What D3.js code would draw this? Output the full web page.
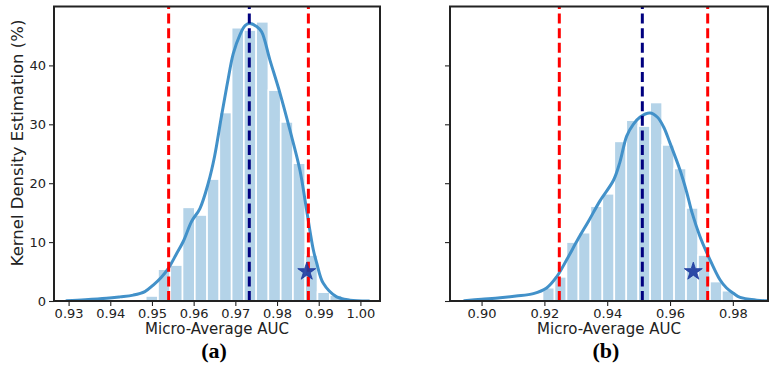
<!DOCTYPE html>
<html><head><meta charset="utf-8">
<script src="https://cdn.jsdelivr.net/npm/d3@7"></script>
<style>body{margin:0;background:#fff}svg{display:block}</style>
</head><body><svg id="c" width="769" height="367"></svg>
<script>
// ---- data ----
const yTicks = [0, 10, 20, 30, 40];
const xTicksA = [0.93, 0.94, 0.95, 0.96, 0.97, 0.98, 0.99, 1.00];
const xTicksB = [0.90, 0.92, 0.94, 0.96, 0.98];

const binEdgesA = [0.94556,0.94850,0.95145,0.95439,0.95733,0.96028,0.96322,0.96616,0.96911,0.97205,0.97499,0.97793,0.98088,0.98382,0.98676,0.98971,0.99265,0.99559];
const densA = [0.3,0.85,5.4,6.1,15.9,14.6,20.7,32.0,46.4,46.0,47.4,35.8,30.4,23.4,7.8,1.5,1.0];

const binEdgesB = [0.91180,0.91560,0.91941,0.92322,0.92703,0.93084,0.93464,0.93845,0.94226,0.94607,0.94988,0.95368,0.95749,0.96130,0.96511,0.96892,0.97272,0.97653,0.98034];
const densB = [0.3,0.3,2.26,4.1,10.0,11.6,16.1,18.2,27.1,30.7,29.7,33.7,26.5,22.5,15.8,7.8,3.3,1.75];

const kdeAx = [0.9295,0.9340,0.9391,0.9423,0.9455,0.9483,0.9503,0.9522,0.9539,0.9558,0.9575,0.9595,0.9615,0.9635,0.9650,0.9667,0.9681,0.9695,0.9711,0.9724,0.9735,0.9751,0.9763,0.9783,0.9807,0.9831,0.9855,0.9871,0.9887,0.9895,0.9911,0.9943,0.9975,1.0020];
const kdeAy = [0.05,0.2,0.45,0.7,1.0,1.6,2.7,4.0,5.5,7.9,10.1,13.5,15.7,20.0,24.5,31.5,37.0,42.0,45.2,46.8,47.1,46.6,45.7,40.9,35.3,29.0,22.2,15.4,8.7,6.5,3.0,0.7,0.15,0.02];

const kdeBx = [0.8945,0.9000,0.9059,0.9110,0.9165,0.9207,0.9239,0.9271,0.9308,0.9340,0.9377,0.9420,0.9440,0.9462,0.9483,0.9504,0.9536,0.9560,0.9580,0.9600,0.9632,0.9653,0.9670,0.9695,0.9723,0.9759,0.9780,0.9802,0.9823,0.9876,0.9910];
const kdeBy = [0.05,0.3,0.56,0.85,1.25,2.2,4.1,7.0,10.6,13.5,17.0,20.5,23.5,28.0,30.0,31.2,31.9,31.2,29.5,26.8,22.2,18.5,15.0,11.0,7.5,3.6,2.2,1.3,0.6,0.15,0.03];

const ciA = [0.9540, 0.98752], meanA = 0.97335, starA = [0.98713, 5.0];
const ciB = [0.92475, 0.97199], meanB = 0.95118, starB = [0.96741, 5.0];

const xLabel = "Micro-Average AUC";
const yLabel = "Kernel Density Estimation (%)";
const panelTags = ["(a)", "(b)"];

// ---- drawing ----
const svg = d3.select("#c");
const plotTop = 6.5, plotBottom = 301;
const y = d3.scaleLinear().domain([0, 50]).range([plotBottom, plotTop]);
const ink = "#222222";
const panels = [
  {x0:54, x1:380, dom:[0.9265,1.0047], ticks:xTicksA, edges:binEdgesA, vals:densA, kx:kdeAx, ky:kdeAy, ci:ciA, mean:meanA, star:starA, tag:panelTags[0], ylab:true},
  {x0:450, x1:768, dom:[0.88995,0.99119], ticks:xTicksB, edges:binEdgesB, vals:densB, kx:kdeBx, ky:kdeBy, ci:ciB, mean:meanB, star:starB, tag:panelTags[1], ylab:false}
];

panels.forEach((p, i) => {
  const x = d3.scaleLinear().domain(p.dom).range([p.x0, p.x1]);
  const g = svg.append("g");
  const cid = "clip" + i;
  svg.append("clipPath").attr("id", cid).append("rect")
    .attr("x", p.x0).attr("y", plotTop).attr("width", p.x1 - p.x0).attr("height", plotBottom - plotTop);
  const pg = g.append("g").attr("clip-path", `url(#${cid})`);

  pg.selectAll("rect.bar").data(p.vals).join("rect").attr("class", "bar")
    .attr("x", (d, k) => x(p.edges[k]))
    .attr("width", (d, k) => x(p.edges[k + 1]) - x(p.edges[k]))
    .attr("y", d => y(d))
    .attr("height", d => y(0) - y(d))
    .attr("fill", "#b4d3e8")
    .attr("stroke", "#ffffff").attr("stroke-width", 1.6);

  const pts = p.kx.map((v, k) => [v, p.ky[k]]);
  pg.append("path").datum(pts)
    .attr("d", d3.line().x(d => x(d[0])).y(d => y(d[1])).curve(d3.curveCatmullRom.alpha(0.5)))
    .attr("fill", "none").attr("stroke", "#4291c9").attr("stroke-width", 3)
    .attr("stroke-linejoin", "round").attr("stroke-linecap", "round");

  const vl = [{v:p.ci[0], c:"#ff0000"}, {v:p.mean, c:"#00007f"}, {v:p.ci[1], c:"#ff0000"}];
  pg.selectAll("line.v").data(vl).join("line").attr("class", "v")
    .attr("x1", d => x(d.v)).attr("x2", d => x(d.v))
    .attr("y1", y(0)).attr("y2", y(50))
    .attr("stroke", d => d.c).attr("stroke-width", 3)
    .attr("stroke-dasharray", "10,4.6");

  pg.append("path")
    .attr("d", d3.symbol(d3.symbolStar, 100)())
    .attr("transform", `translate(${x(p.star[0])},${y(p.star[1])})`)
    .attr("fill", "#1d3a9e").attr("fill-opacity", 0.9)
    .attr("stroke", "#1d3a9e").attr("stroke-width", 0.8);

  const xa = g.append("g").attr("transform", `translate(0,${plotBottom})`)
    .call(d3.axisBottom(x).tickValues(p.ticks).tickFormat(d3.format(".2f")).tickSize(5).tickPadding(3));
  xa.select(".domain").remove();
  xa.selectAll("line").attr("stroke", ink).attr("stroke-width", 1.1);
  xa.selectAll("text").attr("fill", ink).attr("font-family", "DejaVu Sans").attr("font-size", 13);

  const ya = g.append("g").attr("transform", `translate(${p.x0},0)`)
    .call(d3.axisLeft(y).tickValues(yTicks).tickFormat(p.ylab ? d3.format("d") : () => "").tickSize(5).tickPadding(3));
  ya.select(".domain").remove();
  ya.selectAll("line").attr("stroke", ink).attr("stroke-width", 1.1);
  ya.selectAll("text").attr("fill", ink).attr("font-family", "DejaVu Sans").attr("font-size", 13);

  g.append("rect").attr("x", p.x0).attr("y", plotTop).attr("width", p.x1 - p.x0).attr("height", plotBottom - plotTop)
    .attr("fill", "none").attr("stroke", ink).attr("stroke-width", 2);

  const cx = (p.x0 + p.x1) / 2;
  g.append("text").attr("x", cx).attr("y", 334).attr("text-anchor", "middle")
    .attr("font-family", "DejaVu Sans").attr("font-size", 15).attr("fill", ink).text(xLabel);
  g.append("text").attr("x", cx - 3).attr("y", 358).attr("text-anchor", "middle")
    .attr("font-family", "Liberation Serif").attr("font-weight", "bold").attr("font-size", 22).attr("fill", "#000").text(p.tag);

  if (p.ylab) {
    g.append("text").attr("transform", `translate(23,143) rotate(-90)`)
      .attr("text-anchor", "middle").attr("font-family", "DejaVu Sans").attr("font-size", 16.5)
      .attr("fill", ink).text(yLabel);
  }
});
</script></body></html>
